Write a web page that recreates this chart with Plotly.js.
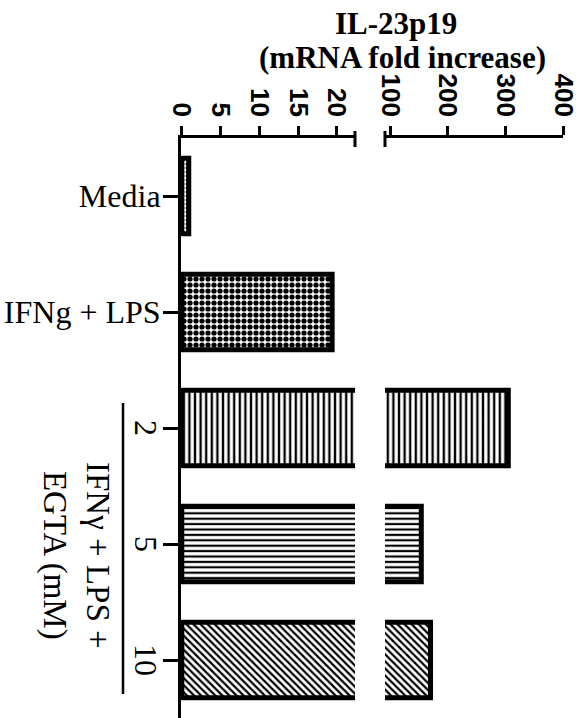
<!DOCTYPE html>
<html>
<head>
<meta charset="utf-8">
<script src="https://cdn.plot.ly/plotly-3.0.1.min.js"></script>
<style>
  html, body { margin: 0; padding: 0; background: #fff; overflow: hidden; }
  #chart { width: 585px; height: 718px; }
</style>
</head>
<body>
<div id="chart"></div>
<script>
// ---- data ----
const categories = ['Media', 'IFNg + LPS', '2', '5', '10'];
const foldIncrease = [0.9, 19.4, 305, 154, 170];
const yTickText = ['Media', 'IFNg + LPS', '', '', ''];
const egtaLabels = ['2', '5', '10'];
const leftTicks = [0, 5, 10, 15, 20];
const rightTicks = [100, 200, 300, 400];
const titleLines = ['IL-23p19', '(mRNA fold increase)'];
const groupText = 'IFNγ + LPS +<br>EGTA (mM)';

// ---- styles ----
const patternShapes = ['.', '.', '|', '-', '\\'];
const patternSizes = [4, 6, 5.6, 5.4, 5];
const patternSolidity = [0.4, 0.6, 0.42, 0.4, 0.45];

const marker = {
  color: 'white',
  line: { color: 'black', width: 5 },
  pattern: {
    shape: patternShapes,
    size: patternSizes,
    solidity: patternSolidity,
    fgcolor: 'black',
    bgcolor: 'white',
    fillmode: 'replace'
  }
};

const traceLeft = {
  type: 'bar', orientation: 'h',
  x: foldIncrease, y: categories,
  xaxis: 'x', yaxis: 'y',
  width: 0.65, marker: marker, hoverinfo: 'x+y'
};
const traceRight = {
  type: 'bar', orientation: 'h',
  x: foldIncrease, y: categories,
  xaxis: 'x2', yaxis: 'y',
  width: 0.65, marker: marker, hoverinfo: 'x+y'
};

const W = 585, H = 718;
const mL = 181, mR = 22, mT = 138, mB = 0;
const pw = W - mL - mR, ph = H - mT - mB;
const px2paperX = p => (p - mL) / pw;
const px2paperY = p => 1 - (p - mT) / ph;

const sansBold = '"Liberation Sans Narrow", "Liberation Sans", Arial, sans-serif';
const serif = '"Liberation Serif", "Times New Roman", serif';

const xCommon = {
  side: 'top', anchor: 'y',
  showline: true, linecolor: 'black', linewidth: 3,
  ticks: 'outside', ticklen: 9, tickwidth: 3, tickcolor: 'black',
  tickangle: 90,
  tickfont: { family: sansBold, size: 26, color: 'black', weight: 'bold' },
  showgrid: false, zeroline: false, fixedrange: true
};

const layout = {
  width: W, height: H,
  margin: { l: mL, r: mR, t: mT, b: mB, pad: 0 },
  paper_bgcolor: 'white', plot_bgcolor: 'white',
  showlegend: false,
  bargap: 0,
  xaxis: Object.assign({}, xCommon, {
    domain: [0, px2paperX(355)],
    range: [-0.1, 22.35],
    tickvals: leftTicks
  }),
  xaxis2: Object.assign({}, xCommon, {
    domain: [px2paperX(385), 1],
    range: [91, 400],
    tickvals: rightTicks
  }),
  yaxis: {
    type: 'category',
    anchor: 'x',
    range: [4.5, -0.5],
    showline: true, linecolor: 'black', linewidth: 3,
    ticks: 'outside', ticklen: 15, tickwidth: 3, tickcolor: 'black',
    ticklabelstandoff: -4,
    tickvals: categories, ticktext: yTickText,
    tickfont: { family: serif, size: 32, color: 'black' },
    showgrid: false, zeroline: false, fixedrange: true
  },
  annotations: [
    {
      text: titleLines[0], xref: 'paper', yref: 'paper',
      x: px2paperX(396), y: px2paperY(23), xanchor: 'center', yanchor: 'middle',
      showarrow: false,
      font: { family: serif, size: 31, color: 'black', weight: 'bold' }
    },
    {
      text: titleLines[1], xref: 'paper', yref: 'paper',
      x: px2paperX(402), y: px2paperY(57), xanchor: 'center', yanchor: 'middle',
      showarrow: false,
      font: { family: serif, size: 31, color: 'black', weight: 'bold' }
    },
    {
      text: groupText, xref: 'paper', yref: 'paper',
      x: px2paperX(76), y: px2paperY(555), xanchor: 'center', yanchor: 'middle',
      textangle: 90, showarrow: false,
      font: { family: serif, size: 33, color: 'black' }
    }
  ].concat(egtaLabels.map(t => ({
    text: t, xref: 'paper', yref: 'y',
    x: px2paperX(146), y: categories.indexOf(t), xanchor: 'center', yanchor: 'middle',
    textangle: 90, showarrow: false,
    font: { family: serif, size: 32, color: 'black' }
  }))),
  shapes: [
    { type: 'line', xref: 'paper', yref: 'paper',
      x0: px2paperX(123), x1: px2paperX(123), y0: px2paperY(403), y1: px2paperY(694),
      line: { color: 'black', width: 2.5 } },
    { type: 'line', xref: 'x domain', yref: 'paper',
      x0: 1, x1: 1, y0: px2paperY(131), y1: px2paperY(147),
      line: { color: 'black', width: 3 } },
    { type: 'line', xref: 'x2 domain', yref: 'paper',
      x0: 0, x1: 0, y0: px2paperY(131), y1: px2paperY(147),
      line: { color: 'black', width: 3 } }
  ]
};

Plotly.newPlot('chart', [traceLeft, traceRight], layout, { displayModeBar: false, staticPlot: true });
</script>
</body>
</html>
